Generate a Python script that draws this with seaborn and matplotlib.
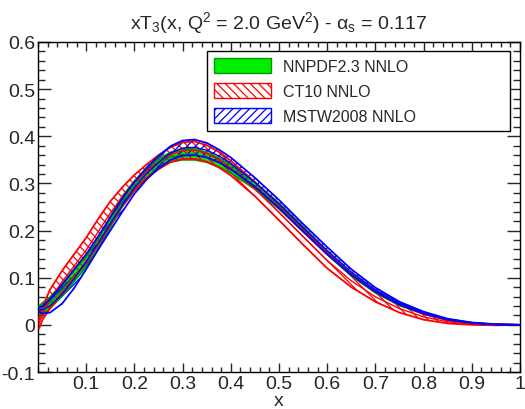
import numpy as np
import pandas as pd
import matplotlib
matplotlib.use("Agg")
import matplotlib.pyplot as plt
from matplotlib.patches import Patch
from matplotlib.ticker import MultipleLocator
import seaborn as sns

# ---- data (x, band lower/upper) ----
x = [0.002, 0.01, 0.025, 0.05, 0.075, 0.1, 0.125, 0.15, 0.175, 0.2,
     0.225, 0.25, 0.275, 0.3, 0.325, 0.35, 0.375, 0.4, 0.45, 0.5,
     0.55, 0.6, 0.65, 0.7, 0.75, 0.8, 0.85, 0.9, 0.95, 1.0]

nnpdf_lo = [0.016, 0.023, 0.035, 0.062, 0.092, 0.123, 0.161, 0.207, 0.251, 0.285,
            0.312, 0.332, 0.346, 0.350, 0.350, 0.345, 0.335, 0.322, 0.288, 0.246,
            0.198, 0.149, 0.104, 0.068, 0.041, 0.023, 0.010, 0.0035, 0.0008, 0.0]
nnpdf_hi = [0.040, 0.047, 0.059, 0.086, 0.116, 0.145, 0.183, 0.229, 0.273, 0.305,
            0.332, 0.352, 0.366, 0.373, 0.373, 0.366, 0.354, 0.339, 0.302, 0.258,
            0.208, 0.157, 0.110, 0.072, 0.045, 0.025, 0.012, 0.0045, 0.0012, 0.0]

ct10_lo = [-0.008, 0.012, 0.035, 0.068, 0.100, 0.132, 0.170, 0.212, 0.252, 0.285,
           0.312, 0.330, 0.345, 0.352, 0.352, 0.346, 0.334, 0.317, 0.273, 0.222,
           0.170, 0.120, 0.080, 0.049, 0.026, 0.011, 0.003, 0.000, -0.001, 0.0]
ct10_hi = [0.010, 0.040, 0.075, 0.115, 0.150, 0.185, 0.225, 0.262, 0.292, 0.318,
           0.340, 0.360, 0.377, 0.387, 0.389, 0.381, 0.367, 0.348, 0.303, 0.255,
           0.204, 0.153, 0.107, 0.070, 0.043, 0.023, 0.010, 0.003, 0.001, 0.0]

mstw_lo = [0.028, 0.024, 0.026, 0.045, 0.078, 0.118, 0.160, 0.200, 0.240, 0.278,
           0.308, 0.332, 0.350, 0.359, 0.360, 0.355, 0.345, 0.330, 0.293, 0.248,
           0.198, 0.150, 0.106, 0.070, 0.043, 0.024, 0.011, 0.004, 0.0008, 0.0]
mstw_hi = [0.037, 0.040, 0.055, 0.085, 0.118, 0.150, 0.188, 0.228, 0.268, 0.303,
           0.333, 0.358, 0.379, 0.391, 0.393, 0.386, 0.372, 0.355, 0.312, 0.265,
           0.214, 0.165, 0.118, 0.079, 0.049, 0.028, 0.013, 0.005, 0.0012, 0.0]

labels = ["NNPDF2.3 NNLO", "CT10 NNLO", "MSTW2008 NNLO"]
x_ticks = [0.1, 0.2, 0.3, 0.4, 0.5, 0.6, 0.7, 0.8, 0.9, 1.0]
x_ticklabels = ["0.1", "0.2", "0.3", "0.4", "0.5", "0.6", "0.7", "0.8", "0.9", "1"]
y_ticks = [-0.1, 0.0, 0.1, 0.2, 0.3, 0.4, 0.5, 0.6]
y_ticklabels = ["-0.1", "0", "0.1", "0.2", "0.3", "0.4", "0.5", "0.6"]

sns.set_style("ticks")
plt.rcParams["font.family"] = ["Liberation Sans", "DejaVu Sans"]
plt.rcParams["mathtext.fontset"] = "custom"
plt.rcParams["mathtext.rm"] = "Liberation Sans"
plt.rcParams["hatch.linewidth"] = 0.9

df = pd.DataFrame({"x": x,
                   "nn_lo": nnpdf_lo, "nn_hi": nnpdf_hi,
                   "ct_lo": ct10_lo, "ct_hi": ct10_hi,
                   "ms_lo": mstw_lo, "ms_hi": mstw_hi})

fig = plt.figure(figsize=(5.25, 4.1), dpi=100)
ax = fig.add_axes([0.0724, 0.0902, 0.918, 0.805])

GREEN = "#00ee00"
DKGREEN = "#009900"

# bands
ax.fill_between(df["x"], df["nn_lo"], df["nn_hi"], facecolor=GREEN,
                edgecolor="none", linewidth=0, zorder=1)
ax.fill_between(df["x"], df["ct_lo"], df["ct_hi"], facecolor="none",
                edgecolor="red", hatch="\\\\\\\\", linewidth=0, zorder=2)
ax.fill_between(df["x"], df["ms_lo"], df["ms_hi"], facecolor="none",
                edgecolor="blue", hatch="////", linewidth=0, zorder=3)

# band edges and central lines
for lo, hi, col in [("nn_lo", "nn_hi", DKGREEN),
                    ("ct_lo", "ct_hi", "red"),
                    ("ms_lo", "ms_hi", "blue")]:
    for c in (lo, hi):
        sns.lineplot(data=df, x="x", y=c, color=col, linewidth=1.3,
                     estimator=None, ax=ax, zorder=4)
    mid = (df[lo] + df[hi]) / 2
    sns.lineplot(x=df["x"], y=mid, color=col, linewidth=1.0,
                 estimator=None, ax=ax, zorder=4)

ax.set_xlim(0, 1)
ax.set_ylim(-0.1, 0.6)
ax.set_xticks(x_ticks)
ax.set_xticklabels(x_ticklabels)
ax.set_yticks(y_ticks)
ax.set_yticklabels(y_ticklabels)
ax.xaxis.set_minor_locator(MultipleLocator(0.02))
ax.yaxis.set_minor_locator(MultipleLocator(0.02))
ax.tick_params(axis="x", which="major", direction="in", length=6.5, width=1,
               top=True, labelsize=14, pad=2.5)
ax.tick_params(axis="x", which="minor", direction="in", length=3.3, width=1, top=True)
ax.tick_params(axis="y", which="major", direction="in", length=9.5, width=1,
               right=True, labelsize=14, pad=2)
ax.tick_params(axis="y", which="minor", direction="in", length=5, width=1, right=True)
for s in ax.spines.values():
    s.set_linewidth(1.0)
    s.set_color("black")

ax.set_xlabel("x", fontsize=14, labelpad=0)
ax.set_ylabel("")
ax.set_title(r"xT$\mathregular{_3}$(x, Q$\mathregular{^2}$ = 2.0 GeV$\mathregular{^2}$) - α$\mathregular{_s}$ = 0.117",
             fontsize=14, pad=10)

handles = [Patch(facecolor=GREEN, edgecolor=DKGREEN, linewidth=1.0),
           Patch(facecolor="white", edgecolor="red", hatch="\\\\\\\\", linewidth=1.0),
           Patch(facecolor="white", edgecolor="blue", hatch="////", linewidth=1.0)]
leg = ax.legend(handles, labels, loc="upper left",
                bbox_to_anchor=(0.35, 0.748, 0.629, 0.225), mode="expand",
                fontsize=11.5, frameon=True, fancybox=False, framealpha=1,
                edgecolor="black", handlelength=3.6, handleheight=1.1,
                labelspacing=0.55, handletextpad=0.7, borderpad=0.45,
                borderaxespad=0)
leg.get_frame().set_linewidth(1.0)

fig.savefig("out.png", dpi=100)
